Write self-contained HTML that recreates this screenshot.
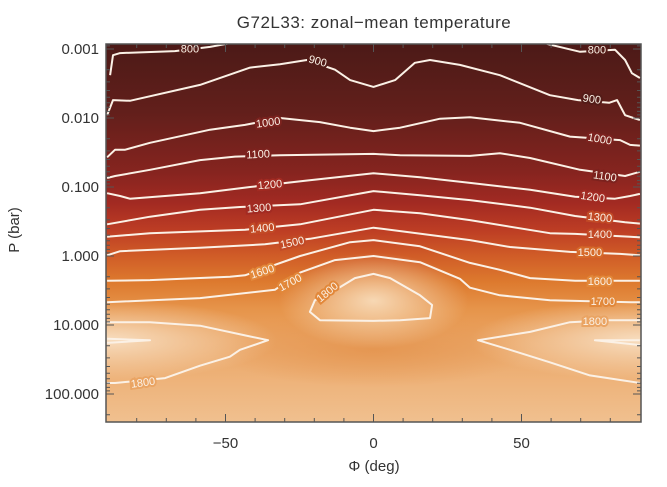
<!DOCTYPE html>
<html><head><meta charset="utf-8">
<style>
html,body{margin:0;padding:0;background:#fff;}
svg{display:block;font-family:"Liberation Sans",sans-serif;}
</style></head>
<body>
<svg id="chart" width="667" height="487" viewBox="0 0 667 487" xmlns="http://www.w3.org/2000/svg">
<defs>
<linearGradient id="bgGrad" gradientUnits="userSpaceOnUse" x1="0" y1="44" x2="0" y2="422">
<stop offset="0" stop-color="#4c1a17"/>
<stop offset="0.18" stop-color="#621f1b"/>
<stop offset="0.34" stop-color="#86241f"/>
<stop offset="0.42" stop-color="#a22a22"/>
<stop offset="0.49" stop-color="#bc3c24"/>
<stop offset="0.56" stop-color="#d05c27"/>
<stop offset="0.63" stop-color="#dd7a2e"/>
<stop offset="0.70" stop-color="#e6944a"/>
<stop offset="0.78" stop-color="#eaa463"/>
<stop offset="0.90" stop-color="#eeb47c"/>
<stop offset="1" stop-color="#f0c08f"/>
</linearGradient>
<radialGradient id="hlCenter"><stop offset="0" stop-color="#f8dcba" stop-opacity="0.95"/><stop offset="1" stop-color="#f8dcba" stop-opacity="0"/></radialGradient>
<radialGradient id="hlEdge"><stop offset="0" stop-color="#f8e0c4" stop-opacity="0.95"/><stop offset="1" stop-color="#f8e0c4" stop-opacity="0"/></radialGradient>
<radialGradient id="dkBand"><stop offset="0" stop-color="#e28f48" stop-opacity="0.7"/><stop offset="1" stop-color="#e28f48" stop-opacity="0"/></radialGradient>
<clipPath id="plotClip"><rect x="106" y="44" width="535" height="378"/></clipPath>
</defs>
<text x="374" y="28" text-anchor="middle" font-size="17" fill="#333" letter-spacing="0.5">G72L33: zonal−mean temperature</text>
<g id="plot" clip-path="url(#plotClip)">
<rect x="106" y="44" width="535" height="378" fill="url(#bgGrad)"/>
<g id="highlights"></g>
<g id="contours"></g>
<g id="labels"></g>
</g>
<g id="axes"></g>
<text x="374" y="471" text-anchor="middle" font-size="15" fill="#333">Φ (deg)</text>
<text transform="translate(19,230) rotate(-90)" text-anchor="middle" font-size="15" fill="#333">P (bar)</text>
</svg>
<script>
// Data: contour levels, each a list of [latitude deg, log10 P bar]
const levels = [800, 800, 900, 1000, 1100, 1200, 1300, 1400, 1500, 1600, 1700, 1800, 1800, 1800, 1900, 1900];
const contourPaths = [
 [[-89,-2.62],[-88,-2.91],[-85.6,-2.94],[-67.1,-2.97],[-55.2,-3.03],[-50.2,-3.07],[-45,-3.12]],
 [[56.3,-3.12],[59,-3.07],[69.8,-2.96],[81.6,-2.99],[85,-2.84],[87.3,-2.65],[90,-2.58]],
 [[-90,-2.04],[-88,-2.26],[-82.3,-2.25],[-58.6,-2.48],[-41.7,-2.73],[-31.6,-2.78],[-22.5,-2.84],[-13,-2.70],[-7.9,-2.55],[0,-2.45],[7.3,-2.55],[14,-2.80],[19.1,-2.84],[29.2,-2.77],[42.7,-2.62],[59.6,-2.33],[69.1,-2.26],[79.6,-2.22],[82.3,-2.26],[85,-2.04],[90,-1.97]],
 [[-90,-1.43],[-87.3,-1.54],[-83.9,-1.54],[-75.5,-1.64],[-55.2,-1.83],[-43.4,-1.90],[-31.6,-2.0],[-18.1,-1.94],[-7.9,-1.86],[0,-1.81],[9,-1.86],[22.5,-1.99],[32.6,-2.01],[49.5,-1.93],[66.4,-1.73],[83.3,-1.68],[86.7,-1.61],[90,-1.6]],
 [[-90,-1.13],[-87.3,-1.16],[-75.5,-1.25],[-58.6,-1.39],[-46.8,-1.44],[-31.6,-1.46],[0,-1.48],[9,-1.46],[32.6,-1.45],[42.7,-1.49],[52.9,-1.42],[69.8,-1.25],[85,-1.16],[88.3,-1.2],[90,-1.22]],
 [[-90,-0.91],[-85.6,-0.87],[-82.3,-0.83],[-58.6,-0.91],[-41.7,-1.0],[-23.1,-1.09],[0,-1.20],[15.7,-1.14],[32.6,-1.06],[52.9,-0.96],[68.1,-0.86],[81.6,-0.83],[86.7,-0.87],[90,-0.9]],
 [[-90,-0.46],[-75.5,-0.57],[-58.6,-0.67],[-45.1,-0.71],[-24.8,-0.75],[0,-0.94],[15.7,-0.88],[32.6,-0.81],[52.9,-0.70],[68.1,-0.58],[85,-0.49],[90,-0.47]],
 [[-90,-0.28],[-75.5,-0.33],[-43.4,-0.38],[-24.8,-0.46],[0,-0.67],[15.7,-0.62],[32.6,-0.52],[59.6,-0.33],[68.1,-0.32],[86.7,-0.28],[90,-0.27]],
 [[-90,-0.01],[-85.6,-0.07],[-58.6,-0.12],[-36.7,-0.17],[-21.5,-0.25],[0,-0.41],[32.6,-0.23],[46.1,-0.13],[66.4,-0.06],[83.3,-0.03],[90,-0.01]],
 [[-90,0.36],[-75.5,0.35],[-48.5,0.3],[-43.4,0.28],[-24.8,0.0],[-7.9,-0.20],[0,-0.23],[15.7,-0.14],[32.6,0.10],[42.7,0.2],[52.9,0.32],[68.1,0.36],[85,0.36],[90,0.36]],
 [[-90,0.67],[-58.6,0.61],[-33.3,0.49],[-24.8,0.24],[-13,0.06],[0,0.0],[15.7,0.09],[29.2,0.33],[32.6,0.46],[42.7,0.57],[59.6,0.64],[68.1,0.65],[87,0.67],[90,0.67]],
 [[-11.3,0.45],[-6.3,0.32],[0,0.26],[5.6,0.32],[15.7,0.57],[19.8,0.71],[19.1,0.9],[9,0.93],[0,0.94],[-18.1,0.93],[-21.5,0.81],[-19.8,0.64],[-11.3,0.45]],
 [[-90,0.96],[-75.5,0.96],[-58.6,1.01],[-43.4,1.15],[-35.6,1.22],[-45.1,1.36],[-48.5,1.46],[-58.6,1.59],[-70.4,1.77],[-87.3,1.84],[-90,1.84]],
 [[90,0.93],[79.6,0.93],[66.4,0.96],[52.9,1.10],[35.3,1.22],[46.1,1.36],[59.6,1.54],[73.1,1.73],[90,1.84]],
 [[-90,1.2],[-75.5,1.22],[-90,1.26]],
 [[90,1.22],[74.8,1.22],[90,1.29]]
];
const labelText = ["800","800","900","900","1000","1000","1100","1100","1200","1200","1300","1300","1400","1400","1500","1500","1600","1600","1700","1700","1800","1800","1800"];
const labelLat = [-62, 75.5, -18.8, 73.8, -35.6, 76.5, -39, 78.2, -35, 74.1, -38.7, 76.5, -37.6, 76.5, -27.5, 73.1, -37.6, 76.5, -28.2, 77.5, -15.7, 74.8, -77.9];
const labelLog = [-3.01, -2.99, -2.83, -2.28, -1.94, -1.70, -1.48, -1.16, -1.04, -0.86, -0.70, -0.565, -0.41, -0.32, -0.2, -0.06, 0.22, 0.36, 0.38, 0.65, 0.52, 0.94, 1.83];
const labelRot = [0, 0, 15, 8, -8, 10, -3, 8, -5, 8, -4, 6, -5, 0, -12, 0, -18, 0, -28, 0, -40, 0, -8];
const xTicks = [-50, 0, 50];
const yTickLabels = ["0.001", "0.010", "0.100", "1.000", "10.000", "100.000"];
const yTickLogs = [-3, -2, -1, 0, 1, 2];

const NS = "http://www.w3.org/2000/svg";
const X0 = 106, X1 = 641, Y0 = 44, Y1 = 422;
function xs(lat){ return 373.5 + lat * 2.96; }
function ys(lp){ return 49 + (lp + 3) * 69; }
function mk(tag, attrs, parent){ const e = document.createElementNS(NS, tag); for (const k in attrs) e.setAttribute(k, attrs[k]); parent.appendChild(e); return e; }

const hl = document.getElementById('highlights');
let h;
h = mk('ellipse', {cx: xs(0), cy: ys(1.35), rx: 160, ry: 38, fill: 'url(#dkBand)'}, hl);


h = mk('ellipse', {cx: xs(0), cy: ys(0.65), rx: 95, ry: 48, fill: 'url(#hlCenter)'}, hl);


h = mk('ellipse', {cx: xs(-90), cy: ys(1.22), rx: 170, ry: 40, fill: 'url(#hlEdge)'}, hl);


h = mk('ellipse', {cx: xs(90), cy: ys(1.22), rx: 170, ry: 40, fill: 'url(#hlEdge)'}, hl);



const cg = document.getElementById('contours');
contourPaths.forEach((pts, i) => {
  const d = pts.map((p, j) => (j ? 'L' : 'M') + xs(p[0]).toFixed(1) + ' ' + ys(p[1]).toFixed(1)).join(' ');
  const path = mk('path', {d: d, fill: 'none', stroke: '#fbf1e6', 'stroke-width': 2, 'stroke-linejoin': 'round'}, cg);
  
  
});

function bgColorAt(lp){
  const t = (lp + 3.07) / 5.48;
  if (t < 0.2) return '#531c18';
  if (t < 0.36) return '#7c221e';
  if (t < 0.45) return '#a22a22';
  if (t < 0.53) return '#c24a26';
  if (t < 0.60) return '#d66a2a';
  if (t < 0.68) return '#e2883a';
  return '#eaa463';
}
const lg = document.getElementById('labels');
labelText.forEach((txt, i) => {
  const x = xs(labelLat[i]), y = ys(labelLog[i]);
  const t = mk('text', {x: x, y: y + 4, 'text-anchor': 'middle', 'font-size': 11, fill: '#fbf1e6', stroke: bgColorAt(labelLog[i]), 'stroke-width': 4, 'paint-order': 'stroke', transform: 'rotate(' + labelRot[i] + ' ' + x + ' ' + y + ')'}, lg);
  t.textContent = txt;
  
  
});

const ag = document.getElementById('axes');
const frame = mk('rect', {x: X0, y: Y0, width: X1 - X0, height: Y1 - Y0, fill: 'none', stroke: '#555', 'stroke-width': 1.5}, ag);


for (let lat = -80; lat <= 80; lat += 10) {
  const major = xTicks.includes(lat);
  const L = major ? 8 : 4;
  const tk = mk('path', {d: `M${xs(lat)} ${Y1} v${-L} M${xs(lat)} ${Y0} v${L}`, stroke: '#555', 'stroke-width': 1}, ag);
  
  
}
xTicks.forEach(v => {
  const t = mk('text', {x: xs(v), y: 448, 'text-anchor': 'middle', 'font-size': 15, fill: '#333'}, ag);
  t.textContent = v < 0 ? '−' + Math.abs(v) : String(v);
  
  
});
for (let dec = -4; dec <= 2; dec++) {
  for (let m = 1; m <= 9; m++) {
    const lp = dec + Math.log10(m);
    const y = ys(lp);
    if (y < Y0 || y > Y1) continue;
    const L = m === 1 ? 8 : 4;
    const tk = mk('path', {d: `M${X0} ${y} h${L} M${X1} ${y} h${-L}`, stroke: '#555', 'stroke-width': 1}, ag);
    
    
  }
}
yTickLabels.forEach((s, i) => {
  const t = mk('text', {x: 99, y: ys(yTickLogs[i]) + 5, 'text-anchor': 'end', 'font-size': 15, fill: '#333'}, ag);
  t.textContent = s;
  
  
});
</script>
</body></html>
